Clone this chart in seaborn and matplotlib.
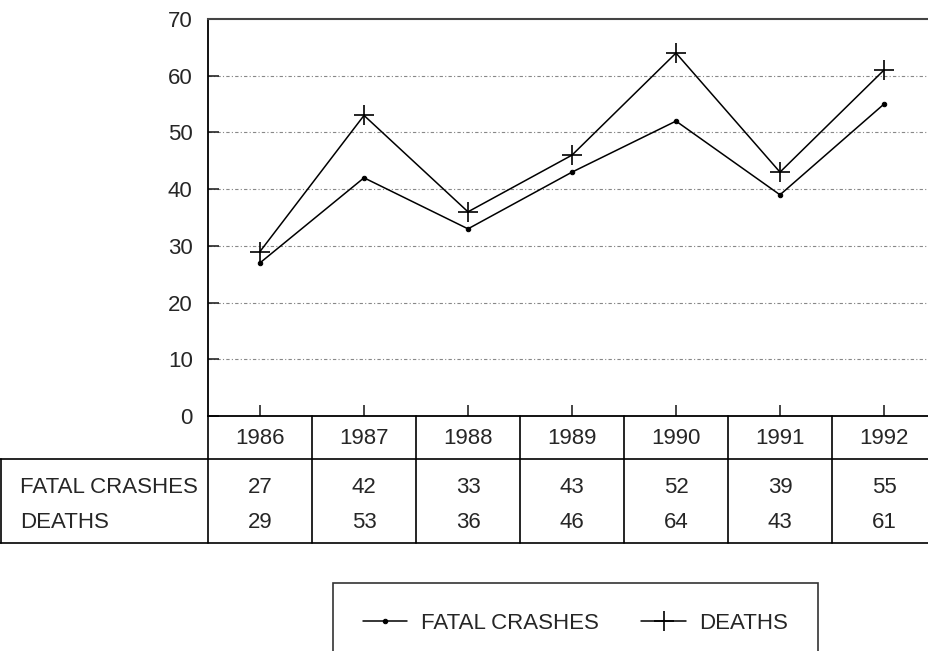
import matplotlib
matplotlib.use('Agg')
import matplotlib.pyplot as plt
import pandas as pd
import seaborn as sns

years = ['1986', '1987', '1988', '1989', '1990', '1991', '1992']
fatal_crashes = [27, 42, 33, 43, 52, 39, 55]
deaths = [29, 53, 36, 46, 64, 43, 61]
series_names = ['FATAL CRASHES', 'DEATHS']
y_ticks = [0, 10, 20, 30, 40, 50, 60, 70]

sns.set_style('white')
plt.rcParams['font.family'] = ['Liberation Sans', 'DejaVu Sans']
FS = 16
plt.rcParams['font.size'] = FS

W, H = 929, 651
fig = plt.figure(figsize=(W / 100, H / 100), dpi=100)

# main plot area (pixel box 208..936 x 19..416)
ax = fig.add_axes([208 / W, 1 - 416 / H, 728 / W, 397 / H])
# table area below the plot, same column grid
tab = fig.add_axes([0, 1 - 543 / H, 936 / W, 127 / H])

df = pd.DataFrame({'pos': range(len(years)), 'year': years,
                   'fatal': fatal_crashes, 'deaths': deaths})

sns.lineplot(data=df, x='pos', y='fatal', ax=ax, color='black', lw=1.1,
             marker='o', markersize=3.2, mec='black', mfc='black',
             label=series_names[0])
sns.lineplot(data=df, x='pos', y='deaths', ax=ax, color='black', lw=1.1,
             marker='+', markersize=14, mew=1.2, mec='black',
             label=series_names[1])

ax.set_xlim(-0.5, len(years) - 0.5)
ax.set_ylim(0, 70)
ax.set_yticks(y_ticks)
ax.set_xticks(range(len(years)))
ax.set_xticklabels([])
ax.set_xlabel('')
ax.set_ylabel('')
ax.tick_params(axis='y', direction='in', length=8, width=1.2, pad=11,
               left=True, labelsize=FS)
ax.tick_params(axis='x', direction='in', length=8, width=1.2, bottom=True)
for yv in y_ticks[1:-1]:
    ax.axhline(yv, color='#888888', lw=0.8, ls=(0, (3, 2, 1, 2)), zorder=0)
ax.spines['right'].set_visible(False)
for s in ['left', 'bottom']:
    ax.spines[s].set_color('black')
    ax.spines[s].set_linewidth(1.3)
ax.spines['top'].set_color('#444444')
ax.spines['top'].set_linewidth(1.5)

handles, labels = ax.get_legend_handles_labels()
ax.get_legend().remove()

# data table
n = len(years)
tab.set_xlim(-2.5, n - 0.5)
tab.set_ylim(543, 416)
tab.axis('off')
lc = dict(color='black', lw=1.2, clip_on=False)
for k in range(n + 1):
    tab.plot([k - 0.5, k - 0.5], [416, 543], **lc)
tab.plot([-2.5, n - 0.5], [459, 459], **lc)
tab.plot([-2.5, n - 0.5], [542.5, 542.5], **lc)
tab.plot([-2.49, -2.49], [459, 543], **lc)
for i, yr in enumerate(years):
    tab.text(i, 438, yr, ha='center', va='center', fontsize=FS)
    tab.text(i, 487, str(fatal_crashes[i]), ha='center', va='center', fontsize=FS)
    tab.text(i, 522, str(deaths[i]), ha='center', va='center', fontsize=FS)
tab.text(-2.31, 487, series_names[0], ha='left', va='center', fontsize=FS)
tab.text(-2.31, 522, series_names[1], ha='left', va='center', fontsize=FS)

leg = fig.legend(handles, labels, loc='upper left', ncol=2, mode='expand',
                 bbox_to_anchor=(333 / W, 1 - 583 / H, 485 / W, 0),
                 frameon=True, fancybox=False, edgecolor='black',
                 borderpad=1.35, handlelength=2.0, handletextpad=0.6,
                 columnspacing=2.0, fontsize=FS, borderaxespad=0)
leg.get_frame().set_linewidth(1.2)

fig.savefig('out.png', dpi=100)
